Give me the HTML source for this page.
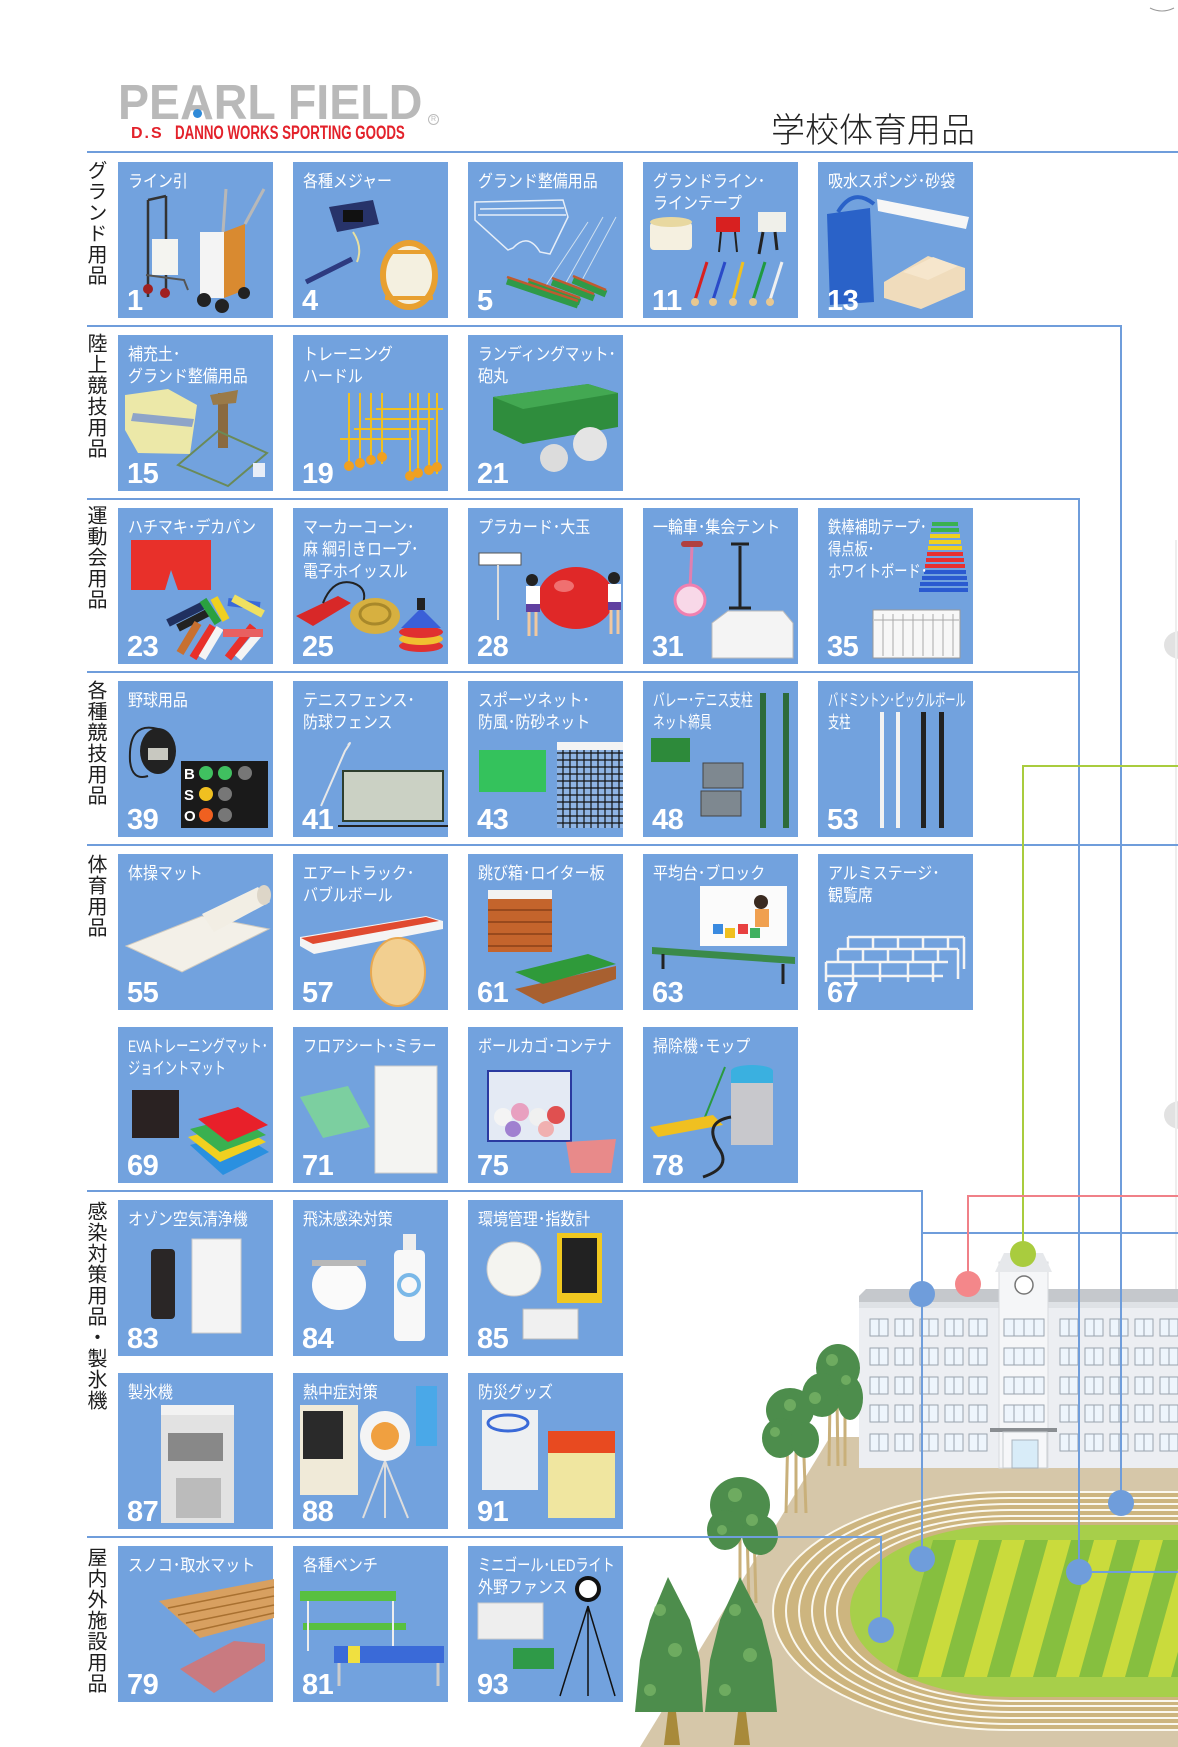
<!DOCTYPE html>
<html><head><meta charset="utf-8">
<style>
html,body{margin:0;padding:0;background:#fff;}
body{width:1178px;height:1747px;position:relative;overflow:hidden;font-family:"Liberation Sans","Noto Sans CJK JP",sans-serif;}
.t{position:absolute;color:#fff;font-size:17px;line-height:22px;font-family:"Liberation Sans","Noto Sans CJK JP",sans-serif;}
.t div{white-space:nowrap;transform-origin:0 0;transform:scaleX(0.88);}
.n{position:absolute;color:#fff;font-family:"Liberation Sans",sans-serif;font-weight:bold;font-size:29px;line-height:29px;letter-spacing:-0.5px;}
.v{position:absolute;left:86px;writing-mode:vertical-rl;font-size:20px;line-height:22px;letter-spacing:1px;color:#1e1e1e;font-family:"Noto Sans CJK JP",sans-serif;}
</style></head><body>
<svg width="1178" height="1747" style="position:absolute;left:0;top:0" xmlns="http://www.w3.org/2000/svg">
<path d="M1150,8 Q1162,14 1174,8" stroke="#999" stroke-width="1" fill="none"/>
<ellipse cx="1180" cy="645" rx="16" ry="14" fill="#e2e2e2"/>
<ellipse cx="1180" cy="1115" rx="16" ry="14" fill="#e2e2e2"/>
<line x1="1176" y1="540" x2="1176" y2="1430" stroke="#eeeeee" stroke-width="2"/>

<polygon points="640,1747 830,1437 1178,1437 1178,1747" fill="#d6c7a9"/>
<path d="M1200,1491 L1010,1491 A238,120 0 0 0 1010,1731 L1200,1731 Z" fill="#cdb57f"/>
<g fill="none" stroke="#fbf8ee" stroke-width="2">
<path d="M1200,1492 L1010,1492 A237,119 0 0 0 1010,1730 L1200,1730"/>
<path d="M1200,1498 L1010,1498 A224,113 0 0 0 1010,1724 L1200,1724"/>
<path d="M1200,1504 L1010,1504 A211,107 0 0 0 1010,1718 L1200,1718"/>
<path d="M1200,1510 L1010,1510 A198,101 0 0 0 1010,1712 L1200,1712"/>
<path d="M1200,1516 L1010,1516 A185,95 0 0 0 1010,1706 L1200,1706"/>
<path d="M1200,1521 L1010,1521 A173,90 0 0 0 1010,1701 L1200,1701"/>
</g>
<clipPath id="fld"><path d="M1200,1525 L1010,1525 A160,86 0 0 0 1010,1697 L1200,1697 Z"/></clipPath>
<path d="M1200,1525 L1010,1525 A160,86 0 0 0 1010,1697 L1200,1697 Z" fill="#a7cf4a"/>
<g clip-path="url(#fld)">
<polygon points="933,1540 1200,1540 1200,1677 895,1677" fill="#cadb3c"/>
<g fill="#86bf3f">
<polygon points="933,1540 956,1540 918,1677 895,1677"/>
<polygon points="979,1540 1002,1540 964,1677 941,1677"/>
<polygon points="1025,1540 1048,1540 1010,1677 987,1677"/>
<polygon points="1071,1540 1094,1540 1056,1677 1033,1677"/>
<polygon points="1117,1540 1140,1540 1102,1677 1079,1677"/>
<polygon points="1163,1540 1186,1540 1148,1677 1125,1677"/>
<polygon points="1209,1540 1232,1540 1194,1677 1171,1677"/>
</g>
</g>
<rect x="859" y="1300" width="320" height="168" fill="#eceef2"/>
<rect x="859" y="1300" width="320" height="8" fill="#dfe2e6"/>
<polygon points="859,1296 866,1289 1178,1289 1178,1302 859,1302" fill="#c5c8cc"/>
<rect x="999" y="1262" width="49" height="206" fill="#f5f6f8" stroke="#d8dade" stroke-width="1"/>
<polygon points="995,1272 1004,1253 1043,1253 1052,1272" fill="#e6e8eb"/>
<circle cx="1024" cy="1285" r="9" fill="#fff" stroke="#777" stroke-width="1.5"/>
<g fill="#eef5fc" stroke="#9aa4ae" stroke-width="1">
<g id="wrow">
<rect x="870" y="1319" width="9" height="17"/><rect x="879" y="1319" width="9" height="17"/>
<rect x="895" y="1319" width="9" height="17"/><rect x="904" y="1319" width="9" height="17"/>
<rect x="920" y="1319" width="9" height="17"/><rect x="929" y="1319" width="9" height="17"/>
<rect x="945" y="1319" width="9" height="17"/><rect x="954" y="1319" width="9" height="17"/>
<rect x="969" y="1319" width="9" height="17"/><rect x="978" y="1319" width="9" height="17"/>
<rect x="1060" y="1319" width="9" height="17"/><rect x="1069" y="1319" width="9" height="17"/>
<rect x="1085" y="1319" width="9" height="17"/><rect x="1094" y="1319" width="9" height="17"/>
<rect x="1110" y="1319" width="9" height="17"/><rect x="1119" y="1319" width="9" height="17"/>
<rect x="1135" y="1319" width="9" height="17"/><rect x="1144" y="1319" width="9" height="17"/>
<rect x="1160" y="1319" width="9" height="17"/><rect x="1169" y="1319" width="9" height="17"/>
</g>
<use href="#wrow" y="29"/><use href="#wrow" y="58"/><use href="#wrow" y="86"/><use href="#wrow" y="115"/>
<g id="crow"><rect x="1004" y="1319" width="10" height="17"/><rect x="1014" y="1319" width="10" height="17"/><rect x="1024" y="1319" width="10" height="17"/><rect x="1034" y="1319" width="10" height="17"/></g>
<use href="#crow" y="29"/><use href="#crow" y="58"/><use href="#crow" y="86"/>
</g>
<rect x="990" y="1428" width="67" height="4" fill="#8a8e92"/>
<rect x="1003" y="1432" width="44" height="36" fill="#f6f7f9" stroke="#c8ccd0"/>
<rect x="1012" y="1440" width="26" height="28" fill="#d8ecf8" stroke="#aab4be"/>
<g stroke="#c9b07a" stroke-width="3">
<line x1="830" y1="1400" x2="829" y2="1466"/><line x1="837" y1="1400" x2="838" y2="1466"/><line x1="845" y1="1400" x2="845" y2="1466"/>
<line x1="788" y1="1430" x2="786" y2="1513"/><line x1="796" y1="1430" x2="796" y2="1513"/><line x1="803" y1="1430" x2="806" y2="1513"/>
<line x1="740" y1="1530" x2="740" y2="1603"/><line x1="747" y1="1530" x2="749" y2="1603"/><line x1="754" y1="1530" x2="756" y2="1603"/>
</g>
<g fill="#4d8d4c">
<ellipse cx="838" cy="1368" rx="22" ry="24"/><ellipse cx="822" cy="1395" rx="20" ry="22"/><ellipse cx="850" cy="1398" rx="13" ry="22"/>
<ellipse cx="790" cy="1410" rx="24" ry="22"/><ellipse cx="780" cy="1438" rx="18" ry="20"/><ellipse cx="805" cy="1440" rx="14" ry="18"/>
<ellipse cx="740" cy="1505" rx="30" ry="28"/><ellipse cx="725" cy="1530" rx="18" ry="20"/><ellipse cx="760" cy="1535" rx="18" ry="20"/>
<polygon points="668,1577 690,1620 700,1660 703,1712 635,1712 640,1660 650,1620"/>
<polygon points="740,1577 762,1620 772,1660 777,1712 705,1712 710,1660 720,1620"/>
</g>
<g fill="#7cb869" opacity="0.7">
<circle cx="832" cy="1360" r="6"/><circle cx="846" cy="1380" r="5"/><circle cx="815" cy="1398" r="6"/><circle cx="790" cy="1405" r="6"/><circle cx="775" cy="1432" r="5"/><circle cx="735" cy="1495" r="7"/><circle cx="752" cy="1520" r="6"/><circle cx="722" cy="1530" r="5"/>
<circle cx="660" cy="1610" r="6"/><circle cx="675" cy="1650" r="7"/><circle cx="650" cy="1690" r="6"/><circle cx="735" cy="1610" r="6"/><circle cx="750" cy="1655" r="7"/><circle cx="725" cy="1690" r="6"/>
</g>
<g fill="#a88a3a"><polygon points="668,1712 676,1712 680,1745 664,1745"/><polygon points="738,1712 746,1712 750,1745 734,1745"/></g>

<g stroke="#6f9ddb" stroke-width="2" fill="none">
<line x1="87" y1="152" x2="1178" y2="152"/>
<polyline points="87,326 1121,326 1121,1503"/>
<polyline points="87,499 1079,499 1079,1572 1178,1572"/>
<line x1="87" y1="672" x2="1079" y2="672"/>
<line x1="87" y1="845" x2="1178" y2="845"/>
<polyline points="87,1191 922,1191 922,1559"/>
<line x1="922" y1="1233" x2="1178" y2="1233"/>
<polyline points="87,1537 881,1537 881,1630"/>
</g>
<polyline points="1178,766 1023,766 1023,1254" stroke="#a9cc3e" stroke-width="2" fill="none"/>
<polyline points="1178,1196 968,1196 968,1284" stroke="#f08088" stroke-width="2" fill="none"/>
<g fill="#6f9ddb">
<ellipse cx="922" cy="1294" rx="13" ry="13"/>
<ellipse cx="922" cy="1559" rx="13" ry="13"/>
<ellipse cx="1079" cy="1572" rx="13" ry="13"/>
<ellipse cx="1121" cy="1503" rx="13" ry="13"/>
<ellipse cx="881" cy="1630" rx="13" ry="13"/>
</g>
<ellipse cx="1023" cy="1254" rx="13" ry="13" fill="#a9cc3e"/>
<ellipse cx="968" cy="1284" rx="13" ry="13" fill="#f4878a"/>

<g fill="#72a2de">
<rect x="118" y="162" width="155" height="156"/><rect x="293" y="162" width="155" height="156"/><rect x="468" y="162" width="155" height="156"/><rect x="643" y="162" width="155" height="156"/><rect x="818" y="162" width="155" height="156"/>
<rect x="118" y="335" width="155" height="156"/><rect x="293" y="335" width="155" height="156"/><rect x="468" y="335" width="155" height="156"/>
<rect x="118" y="508" width="155" height="156"/><rect x="293" y="508" width="155" height="156"/><rect x="468" y="508" width="155" height="156"/><rect x="643" y="508" width="155" height="156"/><rect x="818" y="508" width="155" height="156"/>
<rect x="118" y="681" width="155" height="156"/><rect x="293" y="681" width="155" height="156"/><rect x="468" y="681" width="155" height="156"/><rect x="643" y="681" width="155" height="156"/><rect x="818" y="681" width="155" height="156"/>
<rect x="118" y="854" width="155" height="156"/><rect x="293" y="854" width="155" height="156"/><rect x="468" y="854" width="155" height="156"/><rect x="643" y="854" width="155" height="156"/><rect x="818" y="854" width="155" height="156"/>
<rect x="118" y="1027" width="155" height="156"/><rect x="293" y="1027" width="155" height="156"/><rect x="468" y="1027" width="155" height="156"/><rect x="643" y="1027" width="155" height="156"/>
<rect x="118" y="1200" width="155" height="156"/><rect x="293" y="1200" width="155" height="156"/><rect x="468" y="1200" width="155" height="156"/>
<rect x="118" y="1373" width="155" height="156"/><rect x="293" y="1373" width="155" height="156"/><rect x="468" y="1373" width="155" height="156"/>
<rect x="118" y="1546" width="155" height="156"/><rect x="293" y="1546" width="155" height="156"/><rect x="468" y="1546" width="155" height="156"/>
</g>

<g transform="translate(118,162)">
<path d="M30,135 L30,38 M48,130 L48,34 M30,38 L48,34" stroke="#333" stroke-width="2.5" fill="none"/>
<rect x="34" y="77" width="26" height="36" fill="#f4f4f0"/>
<path d="M28,113 L66,118 L70,128" stroke="#555" stroke-width="2" fill="none"/>
<circle cx="30" cy="127" r="5" fill="#a02020"/><circle cx="47" cy="131" r="5" fill="#a02020"/>
<path d="M105,70 L108,27 M127,62 L146,27" stroke="#b8b8b8" stroke-width="3"/>
<rect x="82" y="70" width="24" height="66" fill="#f4f4f4"/>
<polygon points="106,70 127,62 127,128 106,136" fill="#d98a30"/>
<circle cx="86" cy="138" r="7" fill="#222"/><circle cx="104" cy="144" r="7" fill="#222"/><circle cx="126" cy="131" r="6" fill="#222"/>
</g>
<g transform="translate(293,162)">
<polygon points="36,45 80,38 86,62 44,70" fill="#27336a"/><rect x="50" y="48" width="20" height="12" fill="#111"/>
<path d="M60,70 Q70,85 64,100" stroke="#e8e0a0" stroke-width="2" fill="none"/>
<path d="M13,120 L59,97" stroke="#2d3a80" stroke-width="5"/>
<ellipse cx="116" cy="113" rx="26" ry="32" fill="#f4f0e0" stroke="#e8a030" stroke-width="6"/>
<path d="M95,90 L137,90 M92,136 L140,136" stroke="#e8a030" stroke-width="4"/>
</g>
<g transform="translate(468,162)">
<path d="M7,40 L95,38 L100,55 L82,92 L72,90 Q60,70 45,86 L40,88 L7,58 Z M12,47 L96,46 M10,53 L98,53" stroke="#e6eef8" stroke-width="1.5" fill="none"/>
<path d="M75,128 L120,60 M95,126 L135,55 M112,122 L148,55" stroke="#cfe0f0" stroke-width="1"/>
<g stroke-width="7"><line x1="39" y1="119" x2="110" y2="143" stroke="#2f9a48"/><line x1="60" y1="121" x2="112" y2="140" stroke="#2f9a48"/><line x1="84" y1="120" x2="126" y2="136" stroke="#2f9a48"/><line x1="105" y1="118" x2="138" y2="132" stroke="#2f9a48"/></g>
<g stroke-width="2.5" stroke="#c05a30"><line x1="39" y1="115" x2="110" y2="139"/><line x1="60" y1="117" x2="112" y2="136"/><line x1="84" y1="116" x2="126" y2="132"/><line x1="105" y1="114" x2="138" y2="128"/></g>
</g>
<g transform="translate(643,162)">
<rect x="7" y="60" width="42" height="28" rx="4" fill="#f5f0e0"/><ellipse cx="28" cy="60" rx="21" ry="5" fill="#e8d8a0"/>
<rect x="73" y="55" width="24" height="15" fill="#d82020"/><path d="M78,70 L76,90 M92,70 L94,90" stroke="#222" stroke-width="2"/>
<rect x="115" y="50" width="28" height="20" fill="#f0f0ea"/><path d="M120,70 L116,92 M132,70 L134,88" stroke="#222" stroke-width="3"/>
<g stroke-width="3"><line x1="52" y1="138" x2="64" y2="100" stroke="#d82020"/><line x1="70" y1="138" x2="82" y2="100" stroke="#2a4ac8"/><line x1="90" y1="138" x2="100" y2="100" stroke="#f0c020"/><line x1="110" y1="138" x2="122" y2="100" stroke="#1f9a40"/><line x1="127" y1="138" x2="139" y2="100" stroke="#f0f0f0"/></g>
<g fill="#e8c890"><circle cx="52" cy="140" r="4"/><circle cx="70" cy="140" r="4"/><circle cx="90" cy="140" r="4"/><circle cx="110" cy="140" r="4"/><circle cx="127" cy="140" r="4"/></g>
</g>
<g transform="translate(818,162)">
<path d="M20,50 Q35,25 56,42" stroke="#2a62c8" stroke-width="4" fill="none"/>
<polygon points="9,52 52,46 56,140 12,143" fill="#2a62c8"/>
<polygon points="59,37 151,55 148,67 60,49" fill="#f6f6f6"/>
<polygon points="66,120 110,94 147,106 147,128 103,147 66,136" fill="#f0dcbc"/>
<polygon points="85,110 115,95 140,104 110,118" fill="#f6e6cc"/>
</g>
<g transform="translate(118,335)">
<polygon points="7,60 50,54 79,70 72,119 20,118 7,95" fill="#ece8a8"/><polygon points="15,78 76,84 74,92 13,86" fill="#8ea4c8"/>
<rect x="100" y="58" width="10" height="55" fill="#8a6a40"/><polygon points="92,60 120,55 118,68 95,70" fill="#9a7a48"/>
<polygon points="60,130 100,96 149,118 110,151" stroke="#6a8a58" stroke-width="2" fill="none"/>
<rect x="135" y="128" width="12" height="14" fill="#e8eef8"/>
</g>
<g transform="translate(293,335)" stroke="#f0c020" stroke-width="2">
<line x1="56" y1="58" x2="56" y2="129"/><line x1="67" y1="58" x2="67" y2="129"/><line x1="78" y1="58" x2="78" y2="129"/><line x1="89" y1="58" x2="89" y2="129"/>
<line x1="117" y1="58" x2="117" y2="139"/><line x1="125" y1="58" x2="125" y2="139"/><line x1="136" y1="58" x2="136" y2="139"/><line x1="144" y1="58" x2="144" y2="139"/>
<line x1="83" y1="74" x2="150" y2="74"/><line x1="72" y1="84" x2="141" y2="84"/><line x1="61" y1="94" x2="133" y2="94"/><line x1="47" y1="104" x2="119" y2="104"/>
<g fill="#f0a020" stroke="none"><circle cx="56" cy="131" r="5"/><circle cx="67" cy="128" r="5"/><circle cx="78" cy="125" r="5"/><circle cx="89" cy="122" r="5"/><circle cx="117" cy="141" r="5"/><circle cx="125" cy="138" r="5"/><circle cx="136" cy="135" r="5"/><circle cx="144" cy="132" r="5"/></g>
</g>
<g transform="translate(468,335)">
<polygon points="25,62 120,49 150,58 150,92 55,109 25,95" fill="#2f8d3d"/><polygon points="25,62 120,49 150,58 55,74" fill="#43a852"/>
<circle cx="86" cy="123" r="14" fill="#dcdcdc"/><circle cx="122" cy="109" r="17" fill="#e4e4e4"/>
</g>
<g transform="translate(118,508)">
<polygon points="13,32 93,32 93,82 60,82 53,62 47,82 13,82" fill="#e8302a"/>
<g stroke-width="8"><line x1="50" y1="115" x2="90" y2="95" stroke="#203060"/><line x1="60" y1="120" x2="95" y2="102" stroke="#222"/><line x1="85" y1="92" x2="100" y2="115" stroke="#2aa040"/><line x1="96" y1="90" x2="108" y2="112" stroke="#f0d020"/><line x1="110" y1="94" x2="142" y2="98" stroke="#3a6ad8"/><line x1="115" y1="90" x2="145" y2="106" stroke="#f0e060"/><line x1="75" y1="150" x2="95" y2="118" stroke="#e8302a"/><line x1="84" y1="150" x2="102" y2="120" stroke="#f4f4f4"/><line x1="110" y1="150" x2="135" y2="118" stroke="#e8302a"/><line x1="120" y1="150" x2="142" y2="124" stroke="#f4f4f4"/><line x1="105" y1="125" x2="145" y2="125" stroke="#e86060"/><line x1="62" y1="145" x2="80" y2="115" stroke="#c87030"/></g>
</g>
<g transform="translate(293,508)">
<polygon points="3,108 45,88 58,95 20,118" fill="#d82828"/><path d="M30,95 Q40,70 60,75 Q75,80 70,95" stroke="#222" stroke-width="2" fill="none"/>
<ellipse cx="82" cy="108" rx="25" ry="18" fill="#d7b040"/><ellipse cx="82" cy="106" rx="15" ry="10" fill="none" stroke="#a8882a" stroke-width="3"/>
<ellipse cx="128" cy="138" rx="22" ry="6" fill="#e03030"/><ellipse cx="128" cy="131" rx="22" ry="6" fill="#f0c030"/><ellipse cx="128" cy="124" rx="22" ry="6" fill="#e03030"/>
<polygon points="108,120 128,100 148,120" fill="#3a60d8"/><rect x="124" y="90" width="8" height="12" fill="#222"/>
</g>
<g transform="translate(468,508)">
<rect x="11" y="45" width="42" height="12" fill="#fff" stroke="#555"/><line x1="30" y1="57" x2="30" y2="112" stroke="#ddd" stroke-width="2"/>
<ellipse cx="108" cy="90" rx="38" ry="31" fill="#e02828"/><ellipse cx="96" cy="78" rx="10" ry="6" fill="#f07070"/>
<circle cx="64" cy="72" r="6" fill="#222"/><rect x="58" y="78" width="14" height="18" fill="#fff"/><rect x="58" y="96" width="14" height="8" fill="#6040a0"/><path d="M61,104 L61,128 M68,104 L68,128" stroke="#f0c8a0" stroke-width="3"/>
<circle cx="146" cy="70" r="6" fill="#222"/><rect x="140" y="76" width="13" height="18" fill="#fff"/><rect x="140" y="94" width="13" height="8" fill="#6040a0"/><path d="M143,102 L143,126 M150,102 L150,126" stroke="#f0c8a0" stroke-width="3"/>
</g>
<g transform="translate(643,508)">
<rect x="38" y="33" width="22" height="6" rx="3" fill="#b04040"/><line x1="49" y1="39" x2="47" y2="80" stroke="#e080b0" stroke-width="3"/>
<circle cx="47" cy="92" r="15" fill="#f8d8e8" stroke="#f080b0" stroke-width="3"/>
<path d="M97,38 L97,100 M88,36 L106,36 M86,100 L108,100" stroke="#222" stroke-width="3"/>
<polygon points="69,115 85,103 140,103 150,115 150,150 69,150" fill="#f4f4f4" stroke="#bbb"/>
</g>
<g transform="translate(818,508)">
<g stroke-width="4">
<line x1="114" y1="16" x2="140" y2="16" stroke="#3ab050"/><line x1="113" y1="22" x2="141" y2="22" stroke="#3ab050"/>
<line x1="112" y1="28" x2="142" y2="28" stroke="#f0d020"/><line x1="111" y1="34" x2="143" y2="34" stroke="#f0d020"/><line x1="110" y1="40" x2="144" y2="40" stroke="#f0d020"/>
<line x1="109" y1="46" x2="145" y2="46" stroke="#e83030"/><line x1="108" y1="52" x2="146" y2="52" stroke="#e83030"/><line x1="107" y1="58" x2="147" y2="58" stroke="#e83030"/>
<line x1="106" y1="64" x2="148" y2="64" stroke="#2a5ad0"/><line x1="104" y1="70" x2="149" y2="70" stroke="#2a5ad0"/><line x1="102" y1="76" x2="150" y2="76" stroke="#2a5ad0"/><line x1="101" y1="82" x2="150" y2="82" stroke="#2a5ad0"/>
</g>
<rect x="55" y="102" width="87" height="48" fill="#f7f7f7" stroke="#999"/>
<path d="M65,106 V148 M75,106 V148 M85,106 V148 M95,106 V148 M105,106 V148 M115,106 V148 M125,106 V148 M135,106 V148 M56,112 H141" stroke="#aaa" stroke-width="1"/>
</g>
<g transform="translate(118,681)">
<path d="M40,48 Q10,40 12,80 Q14,100 30,95" stroke="#222" stroke-width="2" fill="none"/>
<ellipse cx="40" cy="70" rx="18" ry="23" fill="#222"/><rect x="30" y="67" width="20" height="12" fill="#c8c8c0"/>
<rect x="63" y="80" width="87" height="67" fill="#1a1a1a"/>
<text x="66" y="98" fill="#fff" font-family="Liberation Sans" font-weight="bold" font-size="15">B</text>
<text x="66" y="119" fill="#fff" font-family="Liberation Sans" font-weight="bold" font-size="15">S</text>
<text x="66" y="140" fill="#fff" font-family="Liberation Sans" font-weight="bold" font-size="15">O</text>
<circle cx="88" cy="92" r="7" fill="#40c060"/><circle cx="107" cy="92" r="7" fill="#40c060"/><circle cx="127" cy="92" r="7" fill="#777"/>
<circle cx="88" cy="113" r="7" fill="#f0c020"/><circle cx="107" cy="113" r="7" fill="#777"/>
<circle cx="88" cy="134" r="7" fill="#f06020"/><circle cx="107" cy="134" r="7" fill="#777"/>
</g>
<g transform="translate(293,681)">
<path d="M55,64 Q60,58 52,70 L28,125" stroke="#e8e8e8" stroke-width="2" fill="none"/>
<rect x="50" y="90" width="100" height="50" fill="#cbd1c4" stroke="#2e3e2e" stroke-width="2"/>
<line x1="45" y1="145" x2="155" y2="145" stroke="#222" stroke-width="2"/>
</g>
<g transform="translate(468,681)">
<rect x="11" y="69" width="67" height="42" fill="#34c25c"/>
<rect x="89" y="61" width="66" height="86" fill="#8fb4e4"/>
<path d="M89,72 H155 M89,79 H155 M89,86 H155 M89,93 H155 M89,100 H155 M89,107 H155 M89,114 H155 M89,121 H155 M89,128 H155 M89,135 H155 M89,142 H155 M95,61 V147 M102,61 V147 M109,61 V147 M116,61 V147 M123,61 V147 M130,61 V147 M137,61 V147 M144,61 V147 M151,61 V147" stroke="#111" stroke-width="1.2"/>
<rect x="89" y="61" width="66" height="8" fill="#f4f4f4"/>
</g>
<g transform="translate(643,681)">
<rect x="117" y="12" width="6" height="135" fill="#2d6b3a"/><rect x="140" y="12" width="6" height="135" fill="#2d6b3a"/>
<rect x="8" y="57" width="39" height="24" fill="#2d8a3a"/>
<rect x="60" y="82" width="40" height="25" fill="#7e8890" stroke="#444"/><rect x="58" y="110" width="40" height="25" fill="#7e8890" stroke="#444"/>
</g>
<g transform="translate(818,681)">
<rect x="62" y="31" width="4" height="116" fill="#f2f2f2"/><rect x="78" y="31" width="4" height="116" fill="#f2f2f2"/>
<rect x="103" y="31" width="5" height="116" fill="#222"/><rect x="121" y="31" width="5" height="116" fill="#222"/>
</g>
<g transform="translate(118,854)">
<polygon points="8,92 84,62 151,75 64,118" fill="#f3f0e8" stroke="#cfcac0"/>
<polygon points="84,60 140,33 152,48 96,78" fill="#f2eee4"/><ellipse cx="146" cy="41" rx="7" ry="10" fill="#ddd6c8"/>
</g>
<g transform="translate(293,854)">
<polygon points="7,83 133,62 150,67 150,75 21,100 7,92" fill="#f4f4f4"/>
<polygon points="8,84 133,63 146,67 20,90" fill="#e04a30"/>
<ellipse cx="105" cy="118" rx="27" ry="34" fill="#f2cf90" stroke="#e8a850" stroke-width="2"/>
</g>
<g transform="translate(468,854)">
<rect x="20" y="44" width="64" height="54" fill="#c4642c"/>
<path d="M20,56 H84 M20,68 H84 M20,80 H84 M20,92 H84" stroke="#8a4018" stroke-width="1.5"/>
<rect x="20" y="36" width="64" height="9" fill="#f2f2f2"/>
<polygon points="47,135 75,150 148,125 148,112" fill="#a86030"/>
<polygon points="47,118 120,100 148,110 75,130" fill="#2f9a3a"/>
</g>
<g transform="translate(643,854)">
<rect x="57" y="32" width="87" height="60" fill="#fbfbfb"/>
<rect x="70" y="70" width="10" height="10" fill="#3a8ae0"/><rect x="82" y="74" width="10" height="10" fill="#f0c020"/><rect x="95" y="70" width="10" height="10" fill="#e84040"/><rect x="107" y="74" width="10" height="10" fill="#40b060"/>
<circle cx="118" cy="48" r="7" fill="#3a2a20"/><rect x="112" y="55" width="14" height="18" fill="#f0a050"/>
<polygon points="9,93 152,103 152,110 9,100" fill="#3a8a4a"/>
<path d="M20,100 V115 M140,110 V130" stroke="#222" stroke-width="3"/>
</g>
<g transform="translate(818,854)" stroke="#f4f4f4" stroke-width="2.5" fill="none">
<path d="M30,83 H146 M20,95 H140 M8,108 H130 M8,122 H125"/>
<path d="M30,83 V95 M55,83 V95 M80,83 V95 M105,83 V95 M130,83 V95 M146,83 V115 M20,95 V108 M45,95 V108 M70,95 V108 M95,95 V108 M120,95 V108 M140,95 V125 M8,108 V128 M35,108 V128 M62,108 V128 M90,108 V128 M115,108 V128"/>
</g>
<g transform="translate(118,1027)">
<rect x="14" y="63" width="47" height="48" fill="#2a2222"/>
<polygon points="72,118 120,105 151,125 105,148" fill="#2a90e0"/>
<polygon points="70,110 118,97 148,115 102,135" fill="#f0d020"/>
<polygon points="72,102 118,90 148,108 102,125" fill="#3ab050"/>
<polygon points="80,92 120,80 150,98 110,115" fill="#e8202a"/>
</g>
<g transform="translate(293,1027)">
<polygon points="7,70 55,59 77,100 30,111" fill="#7ccfa0"/>
<rect x="82" y="39" width="62" height="107" fill="#f4f4f2" stroke="#ccc"/>
</g>
<g transform="translate(468,1027)">
<rect x="20" y="44" width="83" height="70" fill="#e4eaf4" stroke="#2a3aa0" stroke-width="2"/>
<circle cx="35" cy="90" r="9" fill="#f4f4f4"/><circle cx="52" cy="85" r="9" fill="#e8a0c0"/><circle cx="70" cy="90" r="9" fill="#f0f0f0"/><circle cx="88" cy="88" r="9" fill="#e05050"/><circle cx="45" cy="102" r="8" fill="#a080d0"/><circle cx="78" cy="102" r="8" fill="#f0b0b0"/>
<polygon points="98,115 148,112 143,146 103,146" fill="#e88a8a"/>
</g>
<g transform="translate(643,1027)">
<path d="M60,95 L82,40" stroke="#2a9a40" stroke-width="2"/>
<polygon points="7,100 70,88 80,98 15,110" fill="#f0c020"/>
<rect x="88" y="55" width="42" height="63" fill="#c8c8cc"/><rect x="88" y="44" width="42" height="12" fill="#3ab0e0"/><ellipse cx="109" cy="44" rx="21" ry="6" fill="#3ab0e0"/>
<path d="M88,90 Q60,95 75,120 Q90,140 60,150" stroke="#222" stroke-width="3" fill="none"/>
</g>
<g transform="translate(118,1200)">
<rect x="33" y="49" width="24" height="70" rx="4" fill="#2a2626"/>
<rect x="74" y="39" width="49" height="94" fill="#f4f4f4" stroke="#ccc"/>
</g>
<g transform="translate(293,1200)">
<ellipse cx="46" cy="85" rx="27" ry="25" fill="#fafafa"/><rect x="19" y="60" width="54" height="6" fill="#b8b8b8"/>
<rect x="101" y="50" width="31" height="91" rx="5" fill="#f8f8f8"/><rect x="110" y="34" width="13" height="16" fill="#eee"/>
<circle cx="116" cy="85" r="10" fill="none" stroke="#7ab8e8" stroke-width="4"/>
</g>
<g transform="translate(468,1200)">
<circle cx="46" cy="69" r="27" fill="#f4f4f0" stroke="#ccc"/>
<rect x="89" y="33" width="45" height="70" fill="#f0c820"/><rect x="94" y="38" width="35" height="55" fill="#222"/>
<rect x="55" y="109" width="55" height="30" fill="#f0f0f0" stroke="#bbb"/>
</g>
<g transform="translate(118,1373)">
<rect x="43" y="32" width="73" height="118" fill="#e2e2e2"/><rect x="43" y="32" width="73" height="10" fill="#f2f2f2"/>
<rect x="50" y="60" width="55" height="28" fill="#888"/><rect x="58" y="105" width="45" height="40" fill="#bbb"/>
</g>
<g transform="translate(293,1373)">
<rect x="7" y="32" width="58" height="90" fill="#f0ead8"/><rect x="10" y="38" width="40" height="48" fill="#2a2a2a"/>
<path d="M92,88 L70,145 M92,88 L92,145 M92,88 L115,145" stroke="#ddd" stroke-width="2"/>
<circle cx="92" cy="63" r="25" fill="#f4f4f4"/><circle cx="92" cy="63" r="14" fill="#f0a040"/>
<rect x="123" y="13" width="21" height="60" fill="#4aa8e8"/>
</g>
<g transform="translate(468,1373)">
<rect x="14" y="37" width="56" height="80" fill="#eef0f2"/><ellipse cx="40" cy="50" rx="20" ry="8" fill="none" stroke="#3a6ad8" stroke-width="3"/>
<rect x="80" y="58" width="67" height="87" fill="#f0e6a0"/><rect x="80" y="58" width="67" height="22" fill="#e84a20"/>
</g>
<g transform="translate(118,1546)">
<polygon points="41,55 156,33 156,72 82,92" fill="#d8a060"/>
<path d="M50,62 L156,41 M60,69 L156,50 M68,77 L156,59 M76,85 L156,67" stroke="#a87030" stroke-width="1.5"/>
<polygon points="62,123 116,95 147,98 147,115 96,147" fill="#c97a80"/>
</g>
<g transform="translate(293,1546)">
<rect x="7" y="45" width="96" height="10" fill="#58c040"/><rect x="10" y="77" width="103" height="7" fill="#58c040"/>
<path d="M15,55 V105 M100,55 V105" stroke="#eee" stroke-width="2"/>
<rect x="41" y="100" width="110" height="17" fill="#3a6ad8"/><rect x="55" y="100" width="12" height="17" fill="#f0e040"/>
<path d="M46,117 V140 M145,117 V140" stroke="#ccc" stroke-width="3"/>
</g>
<g transform="translate(468,1546)">
<rect x="10" y="57" width="65" height="36" fill="#eeeeee" stroke="#ccc"/>
<rect x="45" y="102" width="41" height="21" fill="#2f9a48"/>
<path d="M120,60 L92,150 M120,60 L147,150 M120,60 L120,150" stroke="#111" stroke-width="1.5"/>
<circle cx="120" cy="43" r="13" fill="#111"/><circle cx="120" cy="43" r="9" fill="#fff"/>
</g>
</svg>

<div style="position:absolute;left:118px;top:79px;font-family:'Liberation Sans',sans-serif;font-weight:bold;font-size:49px;line-height:49px;color:#b9b9b9;white-space:nowrap;transform-origin:0 0;transform:scaleX(0.95);">PEARL FIELD</div>
<div style="position:absolute;left:193px;top:109px;width:9px;height:9px;border-radius:50%;background:#2f8ad8;"></div>
<div style="position:absolute;left:428px;top:114px;width:9px;height:9px;border-radius:50%;border:1px solid #bbb;font-size:7px;line-height:9px;text-align:center;color:#bbb;font-family:'Liberation Sans',sans-serif;">R</div>
<div style="position:absolute;left:131px;top:125px;font-family:'Liberation Sans',sans-serif;font-weight:bold;font-size:16px;line-height:18px;color:#e3222b;letter-spacing:2px;">D.S</div>
<div style="position:absolute;left:175px;top:124px;font-family:'Liberation Sans',sans-serif;font-weight:bold;font-size:19px;line-height:20px;color:#e3222b;white-space:nowrap;transform-origin:0 0;transform:scaleX(0.7);">DANNO WORKS SPORTING GOODS</div>
<div style="position:absolute;left:771px;top:109px;font-family:'Noto Sans CJK JP',sans-serif;font-weight:300;font-size:34px;line-height:38px;color:#222;white-space:nowrap;">学校体育用品</div>

<div class="v" style="top:160px">グランド用品</div>
<div class="v" style="top:333px">陸上競技用品</div>
<div class="v" style="top:505px">運動会用品</div>
<div class="v" style="top:680px">各種競技用品</div>
<div class="v" style="top:854px">体育用品</div>
<div class="v" style="top:1201px">感染対策用品・製氷機</div>
<div class="v" style="top:1547px">屋内外施設用品</div>

<div class="t" style="left:128px;top:171px"><div>ライン引</div></div>
<div class="t" style="left:303px;top:171px"><div>各種メジャー</div></div>
<div class="t" style="left:478px;top:171px"><div>グランド整備用品</div></div>
<div class="t" style="left:653px;top:171px"><div>グランドライン･</div><div>ラインテープ</div></div>
<div class="t" style="left:828px;top:171px"><div>吸水スポンジ･砂袋</div></div>

<div class="t" style="left:128px;top:344px"><div>補充土･</div><div>グランド整備用品</div></div>
<div class="t" style="left:303px;top:344px"><div>トレーニング</div><div>ハードル</div></div>
<div class="t" style="left:478px;top:344px"><div style="transform:scaleX(0.86)">ランディングマット･</div><div>砲丸</div></div>

<div class="t" style="left:128px;top:517px"><div>ハチマキ･デカパン</div></div>
<div class="t" style="left:303px;top:517px"><div>マーカーコーン･</div><div>麻 綱引きロープ･</div><div>電子ホイッスル</div></div>
<div class="t" style="left:478px;top:517px"><div>プラカード･大玉</div></div>
<div class="t" style="left:653px;top:517px"><div>一輪車･集会テント</div></div>
<div class="t" style="left:828px;top:517px"><div style="transform:scaleX(0.78)">鉄棒補助テープ･</div><div style="transform:scaleX(0.78)">得点板･</div><div style="transform:scaleX(0.78)">ホワイトボード･</div></div>

<div class="t" style="left:128px;top:690px"><div>野球用品</div></div>
<div class="t" style="left:303px;top:690px"><div>テニスフェンス･</div><div>防球フェンス</div></div>
<div class="t" style="left:478px;top:690px"><div>スポーツネット･</div><div>防風･防砂ネット</div></div>
<div class="t" style="left:653px;top:690px"><div style="transform:scaleX(0.69)">バレー･テニス支柱</div><div style="transform:scaleX(0.69)">ネット締具</div></div>
<div class="t" style="left:828px;top:690px"><div style="transform:scaleX(0.6)">バドミントン･ピックルボール</div><div style="transform:scaleX(0.66)">支柱</div></div>

<div class="t" style="left:128px;top:863px"><div>体操マット</div></div>
<div class="t" style="left:303px;top:863px"><div>エアートラック･</div><div>バブルボール</div></div>
<div class="t" style="left:478px;top:863px"><div>跳び箱･ロイター板</div></div>
<div class="t" style="left:653px;top:863px"><div>平均台･ブロック</div></div>
<div class="t" style="left:828px;top:863px"><div>アルミステージ･</div><div>観覧席</div></div>

<div class="t" style="left:128px;top:1036px"><div style="transform:scaleX(0.72)">EVAトレーニングマット･</div><div style="transform:scaleX(0.72)">ジョイントマット</div></div>
<div class="t" style="left:303px;top:1036px"><div style="transform:scaleX(0.83)">フロアシート･ミラー</div></div>
<div class="t" style="left:478px;top:1036px"><div style="transform:scaleX(0.83)">ボールカゴ･コンテナ</div></div>
<div class="t" style="left:653px;top:1036px"><div>掃除機･モップ</div></div>

<div class="t" style="left:128px;top:1209px"><div>オゾン空気清浄機</div></div>
<div class="t" style="left:303px;top:1209px"><div>飛沫感染対策</div></div>
<div class="t" style="left:478px;top:1209px"><div>環境管理･指数計</div></div>

<div class="t" style="left:128px;top:1382px"><div>製氷機</div></div>
<div class="t" style="left:303px;top:1382px"><div>熱中症対策</div></div>
<div class="t" style="left:478px;top:1382px"><div>防災グッズ</div></div>

<div class="t" style="left:128px;top:1555px"><div>スノコ･取水マット</div></div>
<div class="t" style="left:303px;top:1555px"><div>各種ベンチ</div></div>
<div class="t" style="left:478px;top:1555px"><div style="transform:scaleX(0.77)">ミニゴール･LEDライト</div><div>外野ファンス</div></div>

<div class="n" style="left:127px;top:287px">1</div>
<div class="n" style="left:302px;top:287px">4</div>
<div class="n" style="left:477px;top:287px">5</div>
<div class="n" style="left:652px;top:287px">11</div>
<div class="n" style="left:827px;top:287px">13</div>
<div class="n" style="left:127px;top:460px">15</div>
<div class="n" style="left:302px;top:460px">19</div>
<div class="n" style="left:477px;top:460px">21</div>
<div class="n" style="left:127px;top:633px">23</div>
<div class="n" style="left:302px;top:633px">25</div>
<div class="n" style="left:477px;top:633px">28</div>
<div class="n" style="left:652px;top:633px">31</div>
<div class="n" style="left:827px;top:633px">35</div>
<div class="n" style="left:127px;top:806px">39</div>
<div class="n" style="left:302px;top:806px">41</div>
<div class="n" style="left:477px;top:806px">43</div>
<div class="n" style="left:652px;top:806px">48</div>
<div class="n" style="left:827px;top:806px">53</div>
<div class="n" style="left:127px;top:979px">55</div>
<div class="n" style="left:302px;top:979px">57</div>
<div class="n" style="left:477px;top:979px">61</div>
<div class="n" style="left:652px;top:979px">63</div>
<div class="n" style="left:827px;top:979px">67</div>
<div class="n" style="left:127px;top:1152px">69</div>
<div class="n" style="left:302px;top:1152px">71</div>
<div class="n" style="left:477px;top:1152px">75</div>
<div class="n" style="left:652px;top:1152px">78</div>
<div class="n" style="left:127px;top:1325px">83</div>
<div class="n" style="left:302px;top:1325px">84</div>
<div class="n" style="left:477px;top:1325px">85</div>
<div class="n" style="left:127px;top:1498px">87</div>
<div class="n" style="left:302px;top:1498px">88</div>
<div class="n" style="left:477px;top:1498px">91</div>
<div class="n" style="left:127px;top:1671px">79</div>
<div class="n" style="left:302px;top:1671px">81</div>
<div class="n" style="left:477px;top:1671px">93</div>
</body></html>
